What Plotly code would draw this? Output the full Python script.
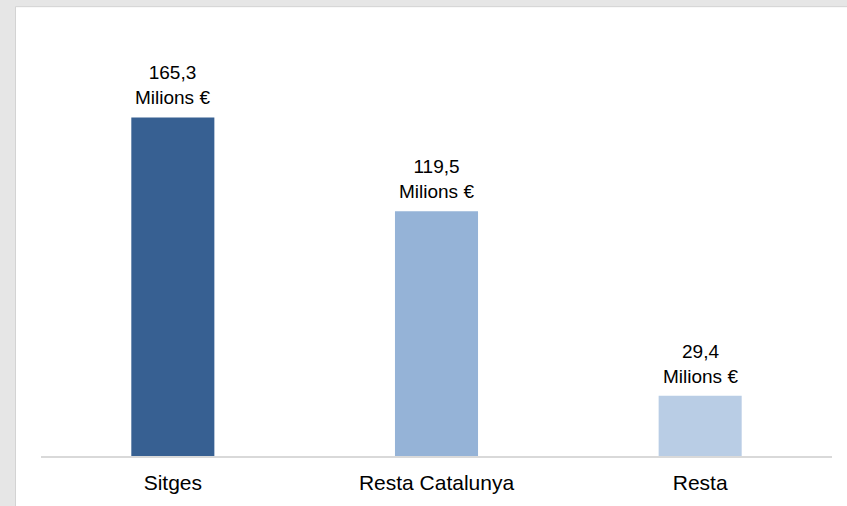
import plotly.graph_objects as go

categories = ["Sitges", "Resta Catalunya", "Resta"]
values = [165.3, 119.5, 29.4]
unit = "Milions €"
colors = ["#376092", "#95B3D7", "#B9CDE5"]

labels = [f"{v:.1f}".replace(".", ",") + "<br>" + unit for v in values]

fig = go.Figure(go.Bar(
    x=categories, y=values, marker=dict(color=colors, line=dict(width=0)),
    hoverinfo="skip",
))

for c, v, t in zip(categories, values, labels):
    fig.add_annotation(x=c, y=v, xref="x", yref="y", text=t, showarrow=False,
                       yanchor="bottom", yshift=7,
                       font=dict(family="Liberation Sans, Arial", size=19, color="#000000"))

L, R, T, B = 41, 15, 30, 47
W, H = 847, 506
pw, ph = W - L - R, H - T - B

def px(x):
    return (x - L) / pw

def py(y):
    return (H - B - y) / ph

fig.add_shape(type="rect", xref="paper", yref="paper",
              x0=px(15.5), x1=px(W + 5), y0=py(H + 5), y1=py(6.5),
              fillcolor="#ffffff", line=dict(color="#d3d3d3", width=1), layer="below")

fig.update_layout(
    width=W, height=H,
    margin=dict(l=L, r=R, t=T, b=B),
    paper_bgcolor="#e6e6e6", plot_bgcolor="#ffffff",
    bargap=0.685, showlegend=False,
    font=dict(family="Liberation Sans, Arial", size=19, color="#000000"),
    xaxis=dict(showline=True, linecolor="#d9d9d9", linewidth=2, ticks="",
               ticklabelstandoff=7,
               tickfont=dict(size=21, color="#000000"), showgrid=False, fixedrange=True),
    yaxis=dict(range=[0, 208], visible=False, showgrid=False, zeroline=False, fixedrange=True),
)

fig.write_html("out.html", config={"displayModeBar": False},
               post_script="document.body.style.margin='0';document.body.style.overflow='hidden';")
